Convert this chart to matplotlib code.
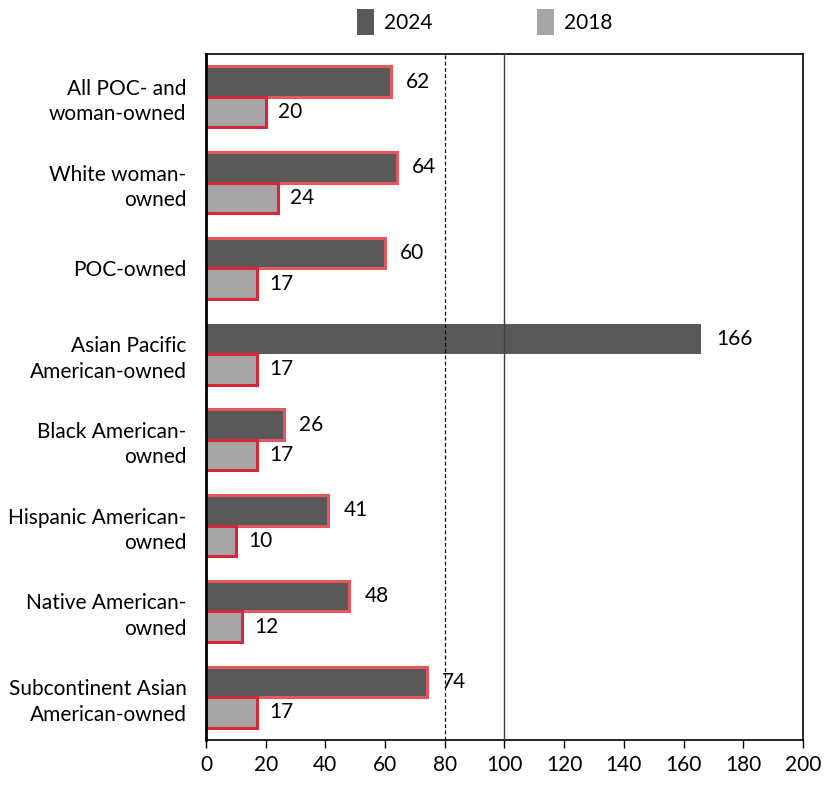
import numpy as np
import matplotlib.pyplot as plt
from matplotlib.patches import Patch

plt.rcParams['font.family'] = ['Lato', 'DejaVu Sans']

categories = ['All POC- and\nwoman-owned', 'White woman-\nowned', 'POC-owned',
              'Asian Pacific\nAmerican-owned', 'Black American-\nowned',
              'Hispanic American-\nowned', 'Native American-\nowned',
              'Subcontinent Asian\nAmerican-owned']
vals_2024 = [62, 64, 60, 166, 26, 41, 48, 74]
vals_2018 = [20, 24, 17, 17, 17, 10, 12, 17]
xticks = [0, 20, 40, 60, 80, 100, 120, 140, 160, 180, 200]

dark = '#595959'
light = '#a6a6a6'
red_dark = '#e4575c'
red_light = '#d9283c'
fs = 15

fig = plt.figure(figsize=(8.29, 7.86), dpi=100)
ax = fig.add_axes([0.2485, 0.0585, 0.7201, 0.8728])

y = np.arange(len(categories))
h = 0.355

# bars past the 100 line are drawn without the red outline
edges_2024 = ['none' if v > 100 else red_dark for v in vals_2024]
ax.barh(y - h / 2, vals_2024, height=h, color=dark, edgecolor=edges_2024,
        linewidth=2.2, zorder=2)
ax.barh(y + h / 2, vals_2018, height=h, color=light, edgecolor=red_light,
        linewidth=2.2, zorder=2)

for yi, v in zip(y, vals_2024):
    ax.annotate(str(v), (v, yi - h / 2), xytext=(11, 0), textcoords='offset points',
                va='center', ha='left', fontsize=fs)
for yi, v in zip(y, vals_2018):
    ax.annotate(str(v), (v, yi + h / 2), xytext=(9, 0), textcoords='offset points',
                va='center', ha='left', fontsize=fs)

ax.axvline(80, color='black', linestyle=(0, (3, 2)), linewidth=0.9, zorder=3)
ax.axvline(100, color='#404040', linewidth=1.0, zorder=3)

ax.set_xlim(0, 200)
ax.set_ylim(len(categories) - 0.5, -0.5)
ax.set_xticks(xticks)
ax.set_xticklabels([str(t) for t in xticks], fontsize=fs)
ax.set_yticks(y)
ax.set_yticklabels(categories, fontsize=fs, ha='right', linespacing=1.35)
ax.tick_params(axis='y', length=0, pad=14)
ax.tick_params(axis='x', length=6, width=1, direction='out', pad=5)

for side in ['top', 'right', 'bottom']:
    ax.spines[side].set_linewidth(1.2)
ax.spines['left'].set_linewidth(2)

handles = [Patch(facecolor=dark, edgecolor='none', label='2024'),
           Patch(facecolor=light, edgecolor='none', label='2018')]
fig.legend(handles=handles, loc='upper center', bbox_to_anchor=(0.585, 1.012),
           ncol=2, frameon=False, fontsize=fs, handlelength=0.8,
           handleheight=1.5, columnspacing=5.0, handletextpad=0.5)

fig.savefig('out.png', dpi=100)
